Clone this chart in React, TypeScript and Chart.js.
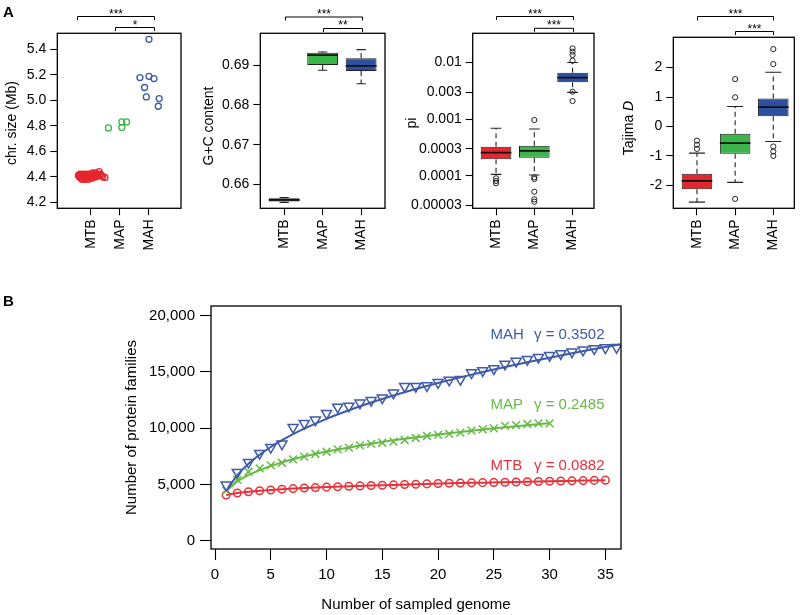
import React, { useEffect, useRef } from "react";
import { Chart, registerables } from "chart.js";

Chart.register(...registerables);

const FONT = "'Liberation Sans', Arial, Helvetica, sans-serif";
Chart.defaults.font.family = FONT;
Chart.defaults.color = "#000";

// ---------- shared ----------
const CATEGORIES = ["MTB", "MAP", "MAH"];
const CATEGORY_POS = [1, 2, 3];
const RED = "#e5262c";
const GREEN = "#3bb44a";
const BLUE = "#2f4f9f";
const PT_BLUE = "#3b59a7";
const B_RED = "#e8323a";
const B_GREEN = "#66bb45";
const B_BLUE = "#3e5aa8";

// ---------- A1: chromosome size (Mb) ----------
const SIZE_TICKS = [4.2, 4.4, 4.6, 4.8, 5.0, 5.2, 5.4];
const SIZE_TICK_LABELS = ["4.2", "4.4", "4.6", "4.8", "5.0", "5.2", "5.4"];
const SIZE_MTB_X = [0.58, 0.61, 0.63, 0.66, 0.67, 0.7, 0.72, 0.73, 0.76, 0.78, 0.8, 0.81, 0.84, 0.86, 0.87, 0.9, 0.92, 0.93, 0.96, 0.98, 1.0, 1.01, 1.04, 1.06, 1.07, 1.1, 1.12, 1.14, 1.17, 1.19, 1.22, 1.25, 1.29, 1.33, 1.37, 1.41, 1.49];
const SIZE_MTB_Y = [4.41, 4.4, 4.42, 4.39, 4.41, 4.38, 4.4, 4.42, 4.39, 4.41, 4.38, 4.4, 4.42, 4.39, 4.41, 4.4, 4.38, 4.42, 4.41, 4.39, 4.4, 4.42, 4.41, 4.39, 4.43, 4.4, 4.42, 4.41, 4.43, 4.4, 4.42, 4.41, 4.44, 4.42, 4.41, 4.4, 4.395];
const SIZE_MAP_X = [1.61, 2.07, 2.07, 2.23];
const SIZE_MAP_Y = [4.783, 4.786, 4.83, 4.83];
const SIZE_MAH_X = [3.0, 2.69, 3.0, 3.17, 2.85, 2.91, 3.35, 3.32];
const SIZE_MAH_Y = [5.478, 5.178, 5.188, 5.17, 5.1, 5.026, 5.013, 4.953];

// ---------- A2: G+C content  [lower whisker, q1, median, q3, upper whisker] ----------
const GC_TICKS = [0.66, 0.67, 0.68, 0.69];
const GC_TICK_LABELS = ["0.66", "0.67", "0.68", "0.69"];
const GC_MTB = [0.6555, 0.6557, 0.6561, 0.6565, 0.6567];
const GC_MAP = [0.6887, 0.69, 0.6925, 0.6931, 0.6933];
const GC_MAH = [0.6853, 0.6885, 0.6898, 0.6917, 0.6939];
const GC_OUT_MTB: number[] = [];
const GC_OUT_MAP: number[] = [];
const GC_OUT_MAH: number[] = [];

// ---------- A3: pi ----------
const PI_TICKS = [0.00003, 0.0001, 0.0003, 0.001, 0.003, 0.01];
const PI_TICK_LABELS = ["0.00003", "0.0001", "0.0003", "0.001", "0.003", "0.01"];
const PI_MTB = [0.0001066, 0.000196, 0.000257, 0.000327, 0.000689];
const PI_MAP = [0.0001037, 0.000209, 0.000275, 0.00034, 0.00067];
const PI_MAH = [0.00296, 0.00445, 0.00536, 0.00656, 0.0099];
const PI_OUT_MTB = [0.0000908, 0.0000813, 0.0000741];
const PI_OUT_MAP = [0.000963, 0.0000944, 0.0000881, 0.0000527, 0.0000387, 0.0000352];
const PI_OUT_MAH = [0.0176, 0.0154, 0.01345, 0.0107, 0.00304, 0.00208];

// ---------- A4: Tajima D ----------
const TD_TICKS = [-2, -1, 0, 1, 2];
const TD_TICK_LABELS = ["-2", "-1", "0", "1", "2"];
const TD_MTB = [-2.57, -2.13, -1.85, -1.61, -0.905];
const TD_MAP = [-1.9, -0.93, -0.565, -0.25, 0.68];
const TD_MAH = [-0.51, 0.35, 0.66, 0.95, 1.84];
const TD_OUT_MTB = [-0.76, -0.62, -0.48];
const TD_OUT_MAP = [1.61, 0.99, -2.46];
const TD_OUT_MAH = [2.63, 2.12, -0.68, -0.85, -1.0];

// ---------- B: pan-genome ----------
const GENOMES = [1, 2, 3, 4, 5, 6, 7, 8, 9, 10, 11, 12, 13, 14, 15, 16, 17, 18, 19, 20, 21, 22, 23, 24, 25, 26, 27, 28, 29, 30, 31, 32, 33, 34, 35, 36];
const MAH_FAMILIES = [4950, 6080, 6970, 7770, 8300, 8600, 10080, 10430, 10730, 11320, 11880, 11970, 12240, 12470, 12700, 13130, 13720, 13720, 13780, 14060, 14280, 14340, 14930, 15120, 15290, 15700, 15950, 16120, 16300, 16470, 16630, 16780, 16950, 17070, 17150, 17180];
const MAP_FAMILIES = [4450, 5400, 6130, 6430, 6700, 6930, 7230, 7470, 7710, 7910, 8120, 8270, 8480, 8600, 8710, 8800, 8950, 9130, 9310, 9400, 9500, 9600, 9780, 9900, 9990, 10200, 10280, 10370, 10430, 10430];
const MTB_FAMILIES = [4060, 4240, 4350, 4440, 4510, 4570, 4630, 4680, 4720, 4760, 4800, 4840, 4870, 4900, 4930, 4960, 4990, 5020, 5050, 5080, 5100, 5120, 5140, 5160, 5180, 5200, 5220, 5240, 5260, 5280, 5300, 5320, 5340, 5360, 5380];
const MAH_FIT_X = [1, 2, 3, 4, 5, 6, 7, 8, 10, 12, 14, 16, 18, 20, 22, 24, 26, 28, 30, 32, 34, 36, 36.4];
const MAH_FIT_Y = [4400, 5825, 6835, 7640, 8330, 8930, 9470, 9960, 10830, 11590, 12280, 12910, 13480, 14020, 14520, 14990, 15440, 15870, 16270, 16660, 17040, 17400, 17470];
const MAP_FIT_X = [1, 2, 3, 4, 5, 6, 8, 10, 12, 14, 16, 18, 20, 22, 24, 26, 28, 30];
const MAP_FIT_Y = [4400, 5260, 5830, 6270, 6640, 6960, 7480, 7920, 8290, 8620, 8920, 9180, 9430, 9660, 9880, 10080, 10270, 10450];
const MTB_FIT_X = [1, 2, 3, 4, 5, 7, 9, 12, 15, 18, 21, 24, 27, 30, 33, 35];
const MTB_FIT_Y = [4060, 4240, 4350, 4440, 4510, 4630, 4720, 4840, 4930, 5020, 5100, 5160, 5220, 5280, 5340, 5380];
const B_Y_TICKS = [0, 5000, 10000, 15000, 20000];
const B_Y_TICK_LABELS = ["0", "5,000", "10,000", "15,000", "20,000"];
const B_X_TICKS = [0, 5, 10, 15, 20, 25, 30, 35];
const B_X_TICK_LABELS = ["0", "5", "10", "15", "20", "25", "30", "35"];
const B_LABEL_NAMES = ["MAH", "MAP", "MTB"];
const B_LABEL_GAMMAS = ["γ = 0.3502", "γ = 0.2485", "γ = 0.0882"];
const B_LABEL_Y = [18280, 12060, 6670];
const B_LABEL_NAME_X = 24.7;
const B_LABEL_GAMMA_X = 28.6;
const B_LABEL_COLORS = [B_BLUE, B_GREEN, B_RED];

// ---------- helpers ----------
const pts = (xs: number[], ys: number[]) => ys.map((y, i) => ({ x: xs[i], y }));

const tickGrid = (len: number) => ({
  display: true,
  drawOnChartArea: false,
  drawTicks: true,
  tickLength: len,
  tickColor: "#000",
  tickWidth: 1.1,
  color: "#000",
});

const framePlugin = {
  id: "frame",
  afterDatasetsDraw(chart: any) {
    const { ctx, chartArea } = chart;
    ctx.save();
    ctx.strokeStyle = "#000";
    ctx.lineWidth = 1.3;
    ctx.strokeRect(chartArea.left, chartArea.top, chartArea.right - chartArea.left, chartArea.bottom - chartArea.top);
    ctx.restore();
  },
};

type Bracket = { from: number; to: number; y: number; drop: number; label: string; labelY: number };

function annotPlugin(brackets: Bracket[], title: { text: string; italic?: string; x: number; y: number }, panel?: string) {
  return {
    id: "annot",
    afterDraw(chart: any) {
      const { ctx } = chart;
      const xs = chart.scales.x;
      ctx.save();
      ctx.strokeStyle = "#000";
      ctx.fillStyle = "#000";
      ctx.lineWidth = 1;
      ctx.font = `12px ${FONT}`;
      ctx.textAlign = "center";
      ctx.textBaseline = "alphabetic";
      brackets.forEach((b) => {
        const x1 = Math.round(xs.getPixelForValue(b.from)) + 0.5;
        const x2 = Math.round(xs.getPixelForValue(b.to)) + 0.5;
        ctx.beginPath();
        ctx.moveTo(x1, b.y + b.drop);
        ctx.lineTo(x1, b.y);
        ctx.lineTo(x2, b.y);
        ctx.lineTo(x2, b.y + b.drop);
        ctx.stroke();
        ctx.fillText(b.label, (x1 + x2) / 2, b.labelY + 6.5);
      });
      // y title
      ctx.translate(title.x, title.y);
      ctx.rotate(-Math.PI / 2);
      ctx.textBaseline = "middle";
      ctx.font = `14px ${FONT}`;
      const w1 = ctx.measureText(title.text).width;
      let w2 = 0;
      if (title.italic) {
        ctx.font = `italic 14px ${FONT}`;
        w2 = ctx.measureText(title.italic).width;
      }
      const start = -(w1 + w2) / 2;
      ctx.textAlign = "left";
      ctx.font = `14px ${FONT}`;
      ctx.fillText(title.text, start, 0);
      if (title.italic) {
        ctx.font = `italic 14px ${FONT}`;
        ctx.fillText(title.italic, start + w1, 0);
      }
      ctx.restore();
      if (panel) {
        ctx.save();
        ctx.font = `bold 15px ${FONT}`;
        ctx.fillStyle = "#000";
        ctx.textAlign = "left";
        ctx.textBaseline = "middle";
        ctx.fillText(panel, 3, 13);
        ctx.restore();
      }
    },
  };
}

function panelAScales(o: {
  xmin: number; xmax: number; ymin: number; ymax: number; yw: number; yType?: string;
  yTicks: number[]; yLabels: string[];
}) {
  return {
    x: {
      type: "linear",
      min: o.xmin,
      max: o.xmax,
      offset: false,
      afterFit: (s: any) => { s.height = 81.7; },
      afterBuildTicks: (s: any) => { s.ticks = CATEGORY_POS.map((v) => ({ value: v })); },
      ticks: {
        autoSkip: false,
        minRotation: 90,
        maxRotation: 90,
        padding: 4,
        font: { size: 14 },
        color: "#000",
        callback: (_v: any, i: number) => CATEGORIES[i],
      },
      grid: { ...tickGrid(7), offset: false },
      border: { display: false },
    },
    y: {
      type: o.yType || "linear",
      min: o.ymin,
      max: o.ymax,
      beginAtZero: false,
      afterFit: (s: any) => { s.width = o.yw; },
      afterBuildTicks: (s: any) => { s.ticks = o.yTicks.map((v) => ({ value: v })); },
      ticks: {
        autoSkip: false,
        padding: 4,
        font: { size: 14 },
        color: "#000",
        callback: (_v: any, i: number) => o.yLabels[i],
      },
      grid: tickGrid(7),
      border: { display: false },
    },
  };
}

function boxDatasets(stats: number[][], outliers: number[][], fills: string[], capHalf: number) {
  const whiskers: any[] = [];
  const caps: any[] = [];
  const medians: any[] = [];
  const outPts: any[] = [];
  stats.forEach((s, i) => {
    const x = CATEGORY_POS[i];
    whiskers.push({ x, y: s[3] }, { x, y: s[4] }, { x, y: null }, { x, y: s[1] }, { x, y: s[0] }, { x, y: null });
    caps.push({ x: x - capHalf, y: s[4] }, { x: x + capHalf, y: s[4] }, { x, y: null }, { x: x - capHalf, y: s[0] }, { x: x + capHalf, y: s[0] }, { x, y: null });
    medians.push({ x: x - 0.4, y: s[2] }, { x: x + 0.4, y: s[2] }, { x, y: null });
    outliers[i].forEach((v) => outPts.push({ x, y: v }));
  });
  return [
    { type: "scatter", data: outPts, pointRadius: 2.6, pointBorderWidth: 1, borderColor: "#222", backgroundColor: "rgba(0,0,0,0)", showLine: false },
    { type: "line", data: medians, borderColor: "#111", borderWidth: 1.8, pointRadius: 0, spanGaps: false },
    {
      type: "bar",
      data: stats.map((s, i) => ({ x: CATEGORY_POS[i], y: [s[1], s[3]] })),
      backgroundColor: fills,
      borderColor: "#222",
      borderWidth: 1,
      borderSkipped: false,
      barPercentage: 0.8,
      categoryPercentage: 1,
      grouped: false,
    },
    { type: "line", data: caps, borderColor: "#222", borderWidth: 1.1, pointRadius: 0, spanGaps: false },
    { type: "line", data: whiskers, borderColor: "#222", borderWidth: 1.1, borderDash: [5, 3.5], pointRadius: 0, spanGaps: false },
  ];
}

const baseOpts = (padRight: number, padTop: number) => ({
  responsive: false,
  animation: false,
  devicePixelRatio: 1,
  layout: { padding: { left: 0, right: padRight, top: padTop, bottom: 0 } },
  plugins: { legend: { display: false }, tooltip: { enabled: false } },
});

// ---------- chart configs ----------
function makeSizeChart(): any {
  const circ = (color: string, data: any[]) => ({
    type: "scatter",
    data,
    pointRadius: 3,
    pointBorderWidth: 1.3,
    borderColor: color,
    backgroundColor: "rgba(0,0,0,0)",
    showLine: false,
  });
  return {
    type: "scatter",
    data: {
      datasets: [
        circ(RED, pts(SIZE_MTB_X, SIZE_MTB_Y)),
        circ(GREEN, pts(SIZE_MAP_X, SIZE_MAP_Y)),
        circ(PT_BLUE, pts(SIZE_MAH_X, SIZE_MAH_Y)),
      ],
    },
    options: {
      ...baseOpts(19, 33.3),
      scales: panelAScales({ xmin: -0.146, xmax: 4.1, ymin: 4.153, ymax: 5.525, yw: 57.3, yTicks: SIZE_TICKS, yLabels: SIZE_TICK_LABELS }),
    },
    plugins: [
      framePlugin,
      annotPlugin(
        [
          { from: 0.53, to: 3.17, y: 16.5, drop: 3.5, label: "***", labelY: 11 },
          { from: 1.83, to: 3.17, y: 27.5, drop: 3.5, label: "*", labelY: 22.5 },
        ],
        { text: "chr. size (Mb)", x: 11.7, y: 123 },
        "A"
      ),
    ],
  };
}

function makeGcChart(): any {
  return {
    type: "line",
    data: { datasets: boxDatasets([GC_MTB, GC_MAP, GC_MAH], [GC_OUT_MTB, GC_OUT_MAP, GC_OUT_MAH], ["#111", GREEN, BLUE], 0.12) },
    options: {
      ...baseOpts(15, 33.3),
      scales: panelAScales({ xmin: 0.38, xmax: 3.62, ymin: 0.654, ymax: 0.698, yw: 60.3, yTicks: GC_TICKS, yLabels: GC_TICK_LABELS }),
    },
    plugins: [
      framePlugin,
      annotPlugin(
        [
          { from: 1.03, to: 3.03, y: 17, drop: 3.5, label: "***", labelY: 11 },
          { from: 2.0, to: 3.03, y: 28.5, drop: 3.5, label: "**", labelY: 22.5 },
        ],
        { text: "G+C content", x: 9.3, y: 126 }
      ),
    ],
  };
}

function makePiChart(): any {
  return {
    type: "line",
    data: { datasets: boxDatasets([PI_MTB, PI_MAP, PI_MAH], [PI_OUT_MTB, PI_OUT_MAP, PI_OUT_MAH], [RED, GREEN, BLUE], 0.14) },
    options: {
      ...baseOpts(6, 33.3),
      scales: panelAScales({ xmin: 0.39, xmax: 3.56, ymin: 0.0000269, ymax: 0.0324, yw: 72.7, yType: "logarithmic", yTicks: PI_TICKS, yLabels: PI_TICK_LABELS }),
    },
    plugins: [
      framePlugin,
      annotPlugin(
        [
          { from: 1.0, to: 3.0, y: 16.5, drop: 3.5, label: "***", labelY: 11 },
          { from: 2.0, to: 3.0, y: 28.3, drop: 3.5, label: "***", labelY: 22.5 },
        ],
        { text: "pi", x: 11.7, y: 123 }
      ),
    ],
  };
}

function makeTajimaChart(): any {
  return {
    type: "line",
    data: { datasets: boxDatasets([TD_MTB, TD_MAP, TD_MAH], [TD_OUT_MTB, TD_OUT_MAP, TD_OUT_MAH], [RED, GREEN, BLUE], 0.21) },
    options: {
      ...baseOpts(5.7, 37.3),
      scales: panelAScales({ xmin: 0.38, xmax: 3.55, ymin: -2.78, ymax: 3.03, yw: 73.3, yTicks: TD_TICKS, yLabels: TD_TICK_LABELS }),
    },
    plugins: [
      framePlugin,
      annotPlugin(
        [
          { from: 1.0, to: 3.0, y: 16.5, drop: 4, label: "***", labelY: 11 },
          { from: 2.0, to: 3.0, y: 31.5, drop: 3.5, label: "***", labelY: 26 },
        ],
        { text: "Tajima ", italic: "D", x: 29.3, y: 128 }
      ),
    ],
  };
}

const bLabelsPlugin = {
  id: "bLabels",
  afterDraw(chart: any) {
    const { ctx } = chart;
    const xs = chart.scales.x;
    const ys = chart.scales.y;
    ctx.save();
    ctx.font = `15px ${FONT}`;
    ctx.textAlign = "left";
    ctx.textBaseline = "middle";
    B_LABEL_NAMES.forEach((name, i) => {
      ctx.fillStyle = B_LABEL_COLORS[i];
      const y = ys.getPixelForValue(B_LABEL_Y[i]);
      ctx.fillText(name, xs.getPixelForValue(B_LABEL_NAME_X), y);
      ctx.fillText(B_LABEL_GAMMAS[i], xs.getPixelForValue(B_LABEL_GAMMA_X), y);
    });
    ctx.fillStyle = "#000";
    ctx.font = `bold 15px ${FONT}`;
    ctx.fillText("B", 3, 12);
    ctx.restore();
  },
};

function makePanBChart(): any {
  const fit = (color: string, data: any[]) => ({
    type: "line",
    data,
    borderColor: color,
    borderWidth: 2,
    pointRadius: 0,
    cubicInterpolationMode: "monotone",
    fill: false,
  });
  const marks = (color: string, data: any[], style: string, radius: number, rotation = 0) => ({
    type: "line",
    data,
    showLine: false,
    pointStyle: style,
    pointRadius: radius,
    pointRotation: rotation,
    pointBorderWidth: 1.5,
    pointBorderColor: color,
    pointBackgroundColor: "rgba(0,0,0,0)",
    borderColor: color,
    backgroundColor: "rgba(0,0,0,0)",
  });
  return {
    type: "line",
    data: {
      datasets: [
        fit(B_BLUE, pts(MAH_FIT_X, MAH_FIT_Y)),
        fit(B_GREEN, pts(MAP_FIT_X, MAP_FIT_Y)),
        fit(B_RED, pts(MTB_FIT_X, MTB_FIT_Y)),
        marks(B_BLUE, pts(GENOMES, MAH_FAMILIES), "triangle", 5.8, 180),
        marks(B_GREEN, pts(GENOMES, MAP_FAMILIES), "crossRot", 5.5),
        marks(B_RED, pts(GENOMES, MTB_FAMILIES), "circle", 3.8),
      ],
    },
    options: {
      ...baseOpts(179, 16),
      scales: {
        x: {
          type: "linear",
          min: -0.36,
          max: 36.4,
          offset: false,
          afterFit: (s: any) => { s.height = 66; },
          afterBuildTicks: (s: any) => { s.ticks = B_X_TICKS.map((v) => ({ value: v })); },
          ticks: { autoSkip: false, maxRotation: 0, padding: 6, font: { size: 15 }, color: "#000", callback: (_v: any, i: number) => B_X_TICK_LABELS[i] },
          grid: tickGrid(11),
          border: { display: false },
          title: { display: true, text: "Number of sampled genome", font: { size: 15 }, color: "#000", padding: { top: 0, bottom: 1 } },
        },
        y: {
          type: "linear",
          min: -738,
          max: 20862,
          afterFit: (s: any) => { s.width = 211; },
          afterBuildTicks: (s: any) => { s.ticks = B_Y_TICKS.map((v) => ({ value: v })); },
          ticks: { autoSkip: false, padding: 5, font: { size: 15 }, color: "#000", callback: (_v: any, i: number) => B_Y_TICK_LABELS[i] },
          grid: tickGrid(11),
          border: { display: false },
          title: { display: true, text: "Number of protein families", font: { size: 15 }, color: "#000", padding: { top: 122.7, bottom: 0 } },
        },
      },
    },
    plugins: [framePlugin, bLabelsPlugin],
  };
}

// ---------- components ----------
function ChartBox(props: { left: number; top: number; width: number; height: number; make: () => any }) {
  const ref = useRef<HTMLCanvasElement>(null);
  useEffect(() => {
    const chart = new Chart(ref.current as HTMLCanvasElement, props.make());
    return () => chart.destroy();
  }, []);
  return (
    <canvas
      ref={ref}
      width={props.width}
      height={props.height}
      style={{ position: "absolute", left: props.left, top: props.top, width: props.width, height: props.height }}
    />
  );
}

export default function App() {
  useEffect(() => {
    document.body.style.margin = "0";
  }, []);
  return (
    <div style={{ position: "fixed", left: 0, top: 0, width: 800, height: 615, background: "#fff", overflow: "hidden" }}>
      <ChartBox left={0} top={0} width={200} height={290} make={makeSizeChart} />
      <ChartBox left={200} top={0} width={200} height={290} make={makeGcChart} />
      <ChartBox left={400} top={0} width={200} height={290} make={makePiChart} />
      <ChartBox left={600} top={0} width={200} height={290} make={makeTajimaChart} />
      <ChartBox left={0} top={290} width={800} height={325} make={makePanBChart} />
    </div>
  );
}
